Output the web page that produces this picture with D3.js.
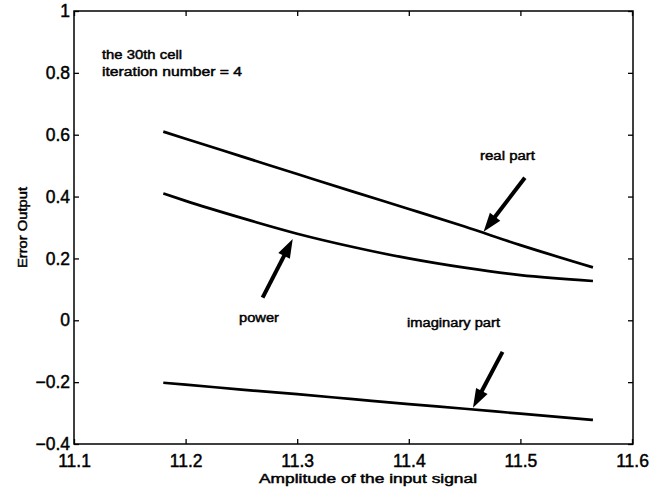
<!DOCTYPE html>
<html>
<head>
<meta charset="utf-8">
<script src="https://cdn.jsdelivr.net/npm/d3@7"></script>
<style>
  html, body { margin: 0; padding: 0; background: #fff; }
  svg { display: block; }
  text { font-family: "Liberation Sans", Arial, Helvetica, sans-serif; fill: #000; }
</style>
</head>
<body>
<svg id="chart" width="654" height="492"></svg>
<script>
// Input amplitude samples and the error outputs measured for the 30th cell
const amplitude = [11.18, 11.2, 11.25, 11.3, 11.35, 11.4, 11.45, 11.5, 11.565];
const realPart = [0.61, 0.587, 0.530, 0.473, 0.416, 0.360, 0.303, 0.243, 0.171];
const powerErr = [0.41, 0.386, 0.331, 0.280, 0.237, 0.200, 0.170, 0.146, 0.127];
const imagPart = [-0.202, -0.208, -0.224, -0.239, -0.255, -0.271, -0.286, -0.302, -0.322];

const xTicks = [11.1, 11.2, 11.3, 11.4, 11.5, 11.6];
const yTicks = [-0.4, -0.2, 0, 0.2, 0.4, 0.6, 0.8, 1];

// Arrow annotations: tail and tip in data units
const arrowNames = ["real part", "power", "imaginary part"];
const arrowTail = [[11.504, 0.461], [11.269, 0.073], [11.484, -0.102]];
const arrowTip = [[11.467, 0.286], [11.296, 0.263], [11.4575, -0.283]];

const svg = d3.select("#chart");
const plotL = 74, plotR = 633, plotT = 11, plotB = 444;

const x = d3.scaleLinear().domain([11.1, 11.6]).range([plotL, plotR - 1]);
const y = d3.scaleLinear().domain([-0.4, 1]).range([plotB, plotT]);

const fmt = d => String(+d.toFixed(1)).replace("-", "\u2212");

// Axes with inward ticks on all four sides
const axisStyle = g => {
  g.select(".domain").remove();
  g.selectAll(".tick line").attr("stroke", "#000").attr("stroke-width", 1.3);
  g.selectAll(".tick text")
    .style("font-size", "17.5px")
    .attr("fill", "#000").attr("stroke", "#000").attr("stroke-width", 0.45);
};

svg.append("g").attr("transform", `translate(0,${plotB})`)
  .call(d3.axisBottom(x).tickValues(xTicks).tickSizeInner(-5).tickSizeOuter(0).tickPadding(11).tickFormat(fmt))
  .call(axisStyle);
svg.append("g").attr("transform", `translate(0,${plotT})`)
  .call(d3.axisTop(x).tickValues(xTicks).tickSizeInner(-5).tickSizeOuter(0).tickFormat(""))
  .call(axisStyle);
svg.append("g").attr("transform", `translate(${plotL},0)`)
  .call(d3.axisLeft(y).tickValues(yTicks).tickSizeInner(-5).tickSizeOuter(0).tickPadding(4).tickFormat(fmt))
  .call(axisStyle);
svg.append("g").attr("transform", `translate(${plotR},0)`)
  .call(d3.axisRight(y).tickValues(yTicks).tickSizeInner(-5).tickSizeOuter(0).tickFormat(""))
  .call(axisStyle);

svg.append("rect")
  .attr("x", plotL).attr("y", plotT)
  .attr("width", plotR - plotL).attr("height", plotB - plotT)
  .attr("fill", "none").attr("stroke", "#000").attr("stroke-width", 1.5);

// Curves
const line = d3.line()
  .x(d => x(d[0])).y(d => y(d[1]))
  .curve(d3.curveMonotoneX);

[realPart, powerErr, imagPart].forEach(vals => {
  svg.append("path")
    .datum(amplitude.map((a, i) => [a, vals[i]]))
    .attr("d", line)
    .attr("fill", "none")
    .attr("stroke", "#000")
    .attr("stroke-width", 2.7)
    .attr("stroke-linejoin", "round")
    .attr("stroke-linecap", "butt");
});

// Arrows pointing at each curve
const headLen = 19, headHalf = 6.5;
arrowNames.forEach((name, i) => {
  const x0 = x(arrowTail[i][0]), y0 = y(arrowTail[i][1]);
  const x1 = x(arrowTip[i][0]), y1 = y(arrowTip[i][1]);
  const dx = x1 - x0, dy = y1 - y0, len = Math.hypot(dx, dy);
  const ux = dx / len, uy = dy / len;
  const bx = x1 - ux * headLen, by = y1 - uy * headLen;
  svg.append("line")
    .attr("x1", x0).attr("y1", y0).attr("x2", bx + ux * 2).attr("y2", by + uy * 2)
    .attr("stroke", "#000").attr("stroke-width", 4);
  svg.append("path")
    .attr("d", `M${x1},${y1}L${bx - uy * headHalf},${by + ux * headHalf}L${bx + uy * headHalf},${by - ux * headHalf}Z`)
    .attr("fill", "#000");
});

// Text annotations
const note = (str, tx, ty, w) => svg.append("text")
  .attr("x", tx).attr("y", ty)
  .attr("textLength", w).attr("lengthAdjust", "spacingAndGlyphs")
  .style("font-size", "12.5px")
  .attr("stroke", "#000").attr("stroke-width", 0.45)
  .text(str);

note("the 30th cell", 102, 59, 80);
note("iteration number = 4", 102, 76, 140);
note(arrowNames[0], 480, 160, 55);
note(arrowNames[1], 239, 322, 40);
note(arrowNames[2], 407, 327, 93);

// Axis titles
svg.append("text")
  .attr("x", 259).attr("y", 483)
  .attr("textLength", 218).attr("lengthAdjust", "spacingAndGlyphs")
  .style("font-size", "12.5px")
  .attr("stroke", "#000").attr("stroke-width", 0.45)
  .text("Amplitude of the input signal");

svg.append("text")
  .attr("transform", "translate(27,227.5) rotate(-90)")
  .attr("text-anchor", "middle")
  .attr("textLength", 81).attr("lengthAdjust", "spacingAndGlyphs")
  .style("font-size", "12.5px")
  .attr("stroke", "#000").attr("stroke-width", 0.45)
  .text("Error Output");
</script>
</body>
</html>
